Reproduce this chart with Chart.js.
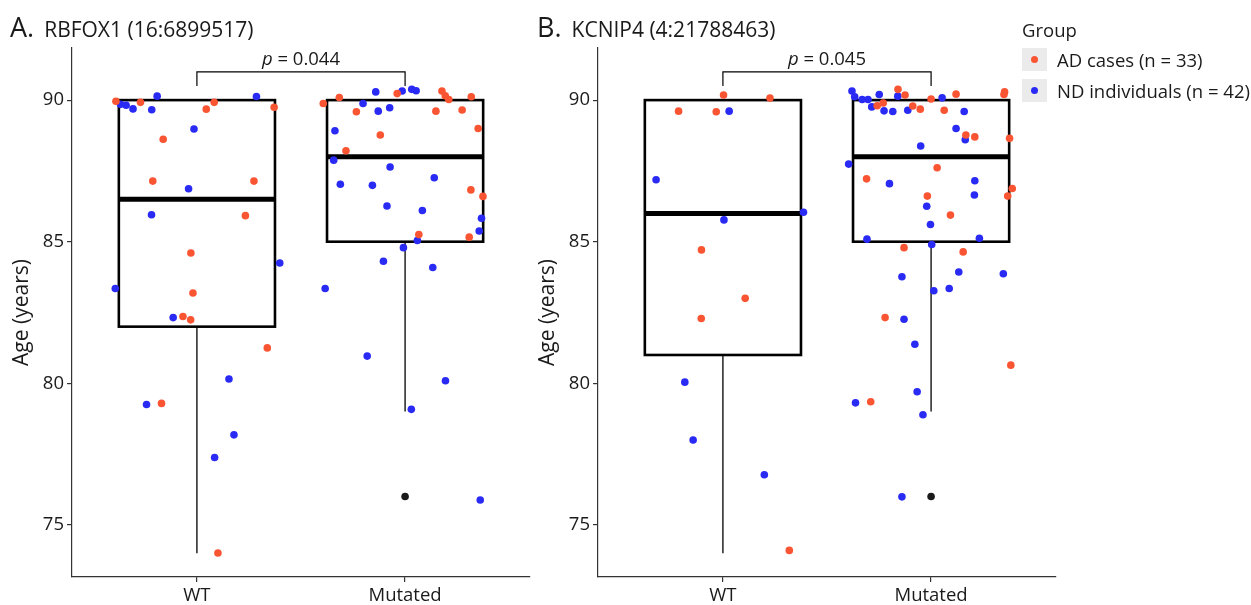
<!DOCTYPE html>
<html>
<head>
<meta charset="utf-8">
<script src="https://cdn.jsdelivr.net/npm/chart.js@4.4.1/dist/chart.umd.min.js"></script>
<style>
  body { margin: 0; background: #fff; width: 1251px; height: 605px; position: relative; overflow: hidden;
         font-family: "Open Sans", "Noto Sans", sans-serif; color: #1a1a1a; }
  canvas { position: absolute; top: 0; }
  .title { position: absolute; top: 10px; font-size: 21px; white-space: nowrap; line-height: 34px; }
  .title span { font-size: 27px; margin-right: 10px; }
  #legend { position: absolute; left: 1022px; top: 16px; font-size: 18.5px; white-space: nowrap; }
  #legend .row { position: relative; height: 31px; line-height: 23px; padding-left: 35px; }
  #legend .key { position: absolute; left: 0; top: 0; width: 25px; height: 23px; background: #ebebeb; }
  #legend .key i { position: absolute; left: 9px; top: 8px; width: 7px; height: 7px; border-radius: 50%; }
  #legend .head { height: 32px; line-height: 28px; }
</style>
</head>
<body>
<canvas id="chartA" width="540" height="605" style="left:0px"></canvas>
<canvas id="chartB" width="540" height="605" style="left:526px"></canvas>
<div class="title" style="left:10px"><span>A.</span>RBFOX1 (16:6899517)</div>
<div class="title" style="left:537px"><span>B.</span>KCNIP4 (4:21788463)</div>
<div id="legend">
  <div class="head">Group</div>
  <div class="row"><span class="key"><i style="background:#fa5533"></i></span>AD cases (n = 33)</div>
  <div class="row"><span class="key"><i style="background:#2a2af5"></i></span>ND individuals (n = 42)</div>
</div>
<script>
// categories and y ticks
const groups = ["WT", "Mutated"];
const yTicks = [75, 80, 85, 90];

// each point: [jittered position on the WT(1)/Mutated(2) axis, age]
const rbfoxAD = [
  [0.611, 89.96], [0.729, 89.92], [1.045, 89.68], [1.083, 89.92], [1.371, 89.75], [0.838, 88.62],
  [0.788, 87.14], [1.274, 87.14], [1.233, 85.92], [0.971, 84.6], [0.981, 83.19], [0.933, 82.36],
  [0.970, 82.24], [1.338, 81.25], [0.830, 79.29], [1.101, 74.01],
  [1.607, 89.88], [1.684, 90.09], [1.962, 90.23], [2.177, 90.32], [2.193, 90.15], [2.210, 90.02],
  [2.318, 90.12], [1.766, 89.59], [2.148, 89.61], [2.274, 89.65], [1.881, 88.77], [2.351, 89.0],
  [1.716, 88.21], [2.316, 86.83], [2.374, 86.6], [2.066, 85.25], [2.308, 85.16]
];
const rbfoxND = [
  [0.633, 89.85], [0.660, 89.82], [0.693, 89.69], [0.783, 89.66], [0.809, 90.14], [1.286, 90.13],
  [0.986, 88.98], [0.960, 86.87], [0.782, 85.95], [1.398, 84.25], [0.608, 83.35], [0.886, 82.32],
  [1.154, 80.15], [0.758, 79.25], [1.178, 78.18], [1.085, 77.38],
  [1.859, 90.29], [1.986, 90.32], [2.032, 90.38], [2.053, 90.33], [1.798, 89.88], [1.871, 89.61],
  [1.926, 89.73], [1.663, 88.92], [1.657, 87.88], [1.928, 87.64], [2.140, 87.26], [1.689, 87.03],
  [1.843, 86.99], [1.913, 86.26], [2.083, 86.1], [2.367, 85.83], [2.356, 85.38], [2.059, 85.04],
  [1.992, 84.79], [1.896, 84.31], [2.133, 84.09], [1.616, 83.35], [1.818, 80.96], [2.194, 80.09],
  [2.030, 79.08], [2.361, 75.88]
];
const kcnipAD = [
  [1.003, 90.18], [1.226, 90.07], [0.787, 89.61], [0.968, 89.59], [0.897, 84.71], [1.107, 83.0],
  [0.896, 82.29], [1.319, 74.1],
  [1.841, 90.38], [1.875, 90.18], [2.000, 90.04], [2.120, 90.21], [2.350, 90.2], [2.353, 90.29],
  [1.741, 89.8], [1.770, 89.9], [1.912, 89.79], [1.948, 89.68], [2.063, 89.64], [2.167, 88.77],
  [2.210, 88.7], [2.377, 88.65], [2.029, 87.61], [1.690, 87.22], [2.390, 86.88], [2.368, 86.61],
  [1.982, 86.61], [2.093, 85.94], [1.870, 84.79], [2.154, 84.64], [1.779, 82.32], [2.383, 80.64],
  [1.710, 79.35]
];
const kcnipND = [
  [1.030, 89.61], [0.679, 87.19], [1.387, 86.04], [1.005, 85.77], [0.817, 80.04], [0.857, 78.0],
  [1.199, 76.77],
  [1.620, 90.32], [1.633, 90.12], [1.669, 90.02], [1.697, 90.02], [1.751, 90.2], [1.840, 90.14],
  [2.053, 90.08], [1.715, 89.76], [1.774, 89.62], [1.816, 89.6], [1.888, 89.64], [2.159, 89.6],
  [2.120, 89.0], [2.164, 88.6], [1.950, 88.38], [1.604, 87.74], [1.800, 87.05], [2.210, 87.15],
  [2.208, 86.65], [1.979, 86.25], [1.997, 85.61], [1.692, 85.09], [2.232, 85.12], [2.003, 84.9],
  [1.860, 83.76], [2.133, 83.93], [2.347, 83.87], [2.013, 83.27], [2.087, 83.35], [1.870, 82.26],
  [1.922, 81.38], [1.933, 79.7], [1.637, 79.31], [1.961, 78.89], [1.860, 75.99]
];

// box stats per group: [lower whisker, q1, median, q3, upper whisker]
const rbfoxBoxes = [[74, 82, 86.5, 90, 90], [79, 85, 88, 90, 90]];
const kcnipBoxes = [[74, 81, 86, 90, 90], [79, 85, 88, 90, 90]];
const rbfoxOutliers = [[2, 76]];
const kcnipOutliers = [[2, 76]];
const rbfoxP = "0.044";
const kcnipP = "0.045";

const ORANGE = "#fa5533";
const BLUE = "#2a2af5";
const AXIS = "#333333";
const FONT = "'Open Sans', 'Noto Sans', sans-serif";

const boxPlugin = {
  id: "boxes",
  beforeDatasetsDraw(chart, args, opts) {
    const { ctx, scales: { x, y } } = chart;
    ctx.save();
    ctx.strokeStyle = "#000";
    opts.stats.forEach((s, i) => {
      const cx = x.getPixelForValue(i + 1);
      const l = x.getPixelForValue(i + 1 - 0.375);
      const r = x.getPixelForValue(i + 1 + 0.375);
      const [lo, q1, med, q3, hi] = s.map(v => y.getPixelForValue(v));
      ctx.lineWidth = 1.3;
      ctx.beginPath();
      ctx.moveTo(cx, lo); ctx.lineTo(cx, q1);
      ctx.moveTo(cx, q3); ctx.lineTo(cx, hi);
      ctx.stroke();
      ctx.lineWidth = 2.6;
      ctx.strokeRect(l, q3, r - l, q1 - q3);
      ctx.lineWidth = 5;
      ctx.beginPath();
      ctx.moveTo(l, med); ctx.lineTo(r, med);
      ctx.stroke();
    });
    ctx.restore();
  },
  afterDatasetsDraw(chart, args, opts) {
    const { ctx, scales: { x, y } } = chart;
    const x1 = x.getPixelForValue(1), x2 = x.getPixelForValue(2);
    const top = y.getPixelForValue(91), foot = y.getPixelForValue(90.5);
    ctx.save();
    ctx.strokeStyle = "#000";
    ctx.lineWidth = 1.2;
    ctx.beginPath();
    ctx.moveTo(x1, foot); ctx.lineTo(x1, top); ctx.lineTo(x2, top); ctx.lineTo(x2, foot);
    ctx.stroke();
    // "p = 0.0xx" with italic p
    ctx.fillStyle = "#1a1a1a";
    ctx.textBaseline = "alphabetic";
    const italic = "italic 18.5px " + FONT, plain = "18.5px " + FONT;
    const rest = " = " + opts.p;
    ctx.font = italic; const wp = ctx.measureText("p").width;
    ctx.font = plain; const wr = ctx.measureText(rest).width;
    const start = (x1 + x2) / 2 - (wp + wr) / 2;
    const base = top - 7;
    ctx.font = italic; ctx.fillText("p", start, base);
    ctx.font = plain; ctx.fillText(rest, start + wp, base);
    ctx.restore();
  }
};

function makePanel(id, ad, nd, outliers, stats, p) {
  const toXY = pts => pts.map(([x, y]) => ({ x, y }));
  new Chart(document.getElementById(id), {
    type: "scatter",
    data: {
      datasets: [
        { label: "AD cases", data: toXY(ad), backgroundColor: ORANGE, pointRadius: 3.8, borderWidth: 0 },
        { label: "ND individuals", data: toXY(nd), backgroundColor: BLUE, pointRadius: 3.8, borderWidth: 0 },
        { label: "outlier", data: toXY(outliers), backgroundColor: "#1a1a1a", pointRadius: 3.8, borderWidth: 0 }
      ]
    },
    options: {
      responsive: false,
      animation: false,
      layout: { padding: { top: 48, right: 10, left: 0, bottom: 0 } },
      plugins: {
        legend: { display: false },
        tooltip: { enabled: false },
        boxes: { stats, p }
      },
      scales: {
        x: {
          type: "linear",
          min: 0.4,
          max: 2.6,
          afterBuildTicks: s => { s.ticks = groups.map((g, i) => ({ value: i + 1 })); },
          afterFit: s => { s.height = 28; },
          ticks: {
            callback: v => groups[v - 1],
            color: "#1a1a1a",
            font: { family: FONT, size: 18.5 },
            padding: 3,
            maxRotation: 0
          },
          grid: { drawOnChartArea: false, tickLength: 5, color: AXIS, lineWidth: 1.2 },
          border: { color: AXIS, width: 1.2 }
        },
        y: {
          min: 73.16,
          max: 91.84,
          afterBuildTicks: s => { s.ticks = yTicks.map(v => ({ value: v })); },
          afterFit: s => { s.width = 72; },
          ticks: {
            color: "#1a1a1a",
            font: { family: FONT, size: 18.5 },
            padding: 3
          },
          grid: { drawOnChartArea: false, tickLength: 5, color: AXIS, lineWidth: 1.2 },
          border: { color: AXIS, width: 1.2 },
          title: {
            display: true,
            text: "Age (years)",
            color: "#1a1a1a",
            font: { family: FONT, size: 21 },
            padding: { top: 9, bottom: 0 }
          }
        }
      }
    },
    plugins: [boxPlugin]
  });
}

makePanel("chartA", rbfoxAD, rbfoxND, rbfoxOutliers, rbfoxBoxes, rbfoxP);
makePanel("chartB", kcnipAD, kcnipND, kcnipOutliers, kcnipBoxes, kcnipP);
</script>
</body>
</html>
